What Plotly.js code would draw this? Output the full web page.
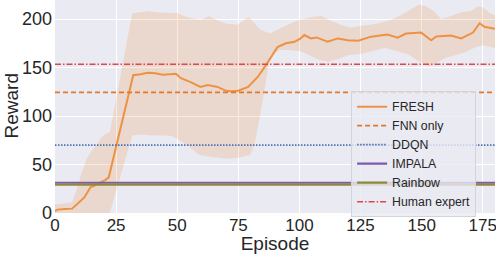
<!DOCTYPE html>
<html>
<head>
<meta charset="utf-8">
<script src="https://cdn.plot.ly/plotly-3.0.1.min.js"></script>
<style>html,body{margin:0;padding:0;background:#fff;}#chart{width:496px;height:254px;}</style>
</head>
<body>
<div id="chart"></div>
<script>
// FRESH mean reward
const freshEp   = [0, 1, 4, 7, 9, 10.5, 12, 14.5, 16, 18.6, 20.5, 22, 32, 35, 38, 41, 44, 47, 49.5, 51.5, 55.5, 59.5, 62.5, 66.5, 70, 72, 75, 79, 83, 86.3, 91, 94.5, 98, 100.5, 102, 104.7, 107, 111.5, 115.7, 119.8, 124, 129.3, 136, 140.2, 143.6, 149.8, 153.9, 156, 162, 166.2, 171, 173.7, 175.7, 180];
const freshMean = [2, 3.5, 4, 4.5, 9, 12.7, 16, 26.5, 28, 31.6, 34, 36.8, 142, 143, 144.5, 144, 142.5, 143, 143.5, 139, 135, 130, 132, 130, 126, 125.5, 126, 130, 140.5, 152.5, 171, 175, 176.5, 180, 183.5, 180, 181, 176.6, 180, 178, 177.6, 181.8, 184, 180.7, 185, 186, 178, 182, 183, 180, 186, 195.6, 192, 190];
// FRESH band (upper / lower edges)
const upperEp  = [0, 3, 7, 9, 11, 13, 15, 17, 19, 21, 22.4, 31.6, 35, 38, 41, 44, 47, 50, 55, 59.6, 63, 67, 70.4, 74.5, 79.3, 84, 88, 92, 96, 100, 105, 109, 113, 117, 121, 125, 129, 133, 137, 141, 145, 149, 152, 155, 158, 162, 166, 170, 173, 175, 178, 180];
const upperVal = [9, 9.5, 11, 25, 42, 56, 64, 70, 78, 82, 83, 206, 207, 208, 207, 206.5, 206, 206, 201, 199, 203, 198, 195, 194, 202, 189, 185, 190, 195, 199, 202, 203, 198, 194, 191, 193, 194, 196, 199, 203, 209, 215, 213, 208, 200, 203, 207, 208, 213, 212, 206, 204];
const lowerEp  = [0, 22.4, 31.6, 35, 40, 45, 48, 51, 55, 59, 63, 67, 70, 75, 80, 82, 85, 88, 92, 96, 100, 104, 108, 112, 116, 120, 125, 130, 135, 140, 145, 149, 153, 156, 160, 164, 168, 172, 175, 178, 180];
const lowerVal = [0, 0, 80, 81, 80, 80, 79, 75, 68, 60, 58, 57, 56, 57, 60, 75, 116, 162, 168, 168, 167, 163, 158, 156, 159, 163, 164, 167, 170, 167, 163, 156, 151, 155, 160, 163, 166, 171, 173, 171, 170];
// Constant baselines
const baselineNames  = ['FNN only', 'DDQN', 'IMPALA', 'Rainbow', 'Human expert'];
const baselineValues = [124.4, 70, 31.2, 29.2, 153.3];
const xTicks = [0, 25, 50, 75, 100, 125, 150, 175];
const yTicks = [0, 50, 100, 150, 200];
const xRange = [0, 180];
const yRange = [0, 219.6];

const baselineStyles = [
  {color: '#E07A2A', width: 1.8, dash: '5px,3px'},
  {color: '#4C72B0', width: 1.8, dash: '1.5px,1.5px'},
  {color: '#7D5BAF', width: 2.2, dash: 'solid'},
  {color: '#8F8A3A', width: 2.2, dash: 'solid'},
  {color: '#E0474C', width: 1.5, dash: '6px,2px,1.5px,2px'}
];

const traces = [];
traces.push({
  x: upperEp.concat(lowerEp.slice().reverse()),
  y: upperVal.concat(lowerVal.slice().reverse()),
  type: 'scatter', mode: 'lines', fill: 'toself',
  fillcolor: 'rgba(237,146,67,0.2)', line: {width: 0, color: 'rgba(0,0,0,0)'},
  showlegend: false, hoverinfo: 'skip'
});
traces.push({
  x: freshEp, y: freshMean, type: 'scatter', mode: 'lines', name: 'FRESH',
  line: {color: '#ED9243', width: 2}
});
baselineNames.forEach((n, i) => {
  traces.push({
    x: xRange, y: [baselineValues[i], baselineValues[i]], type: 'scatter', mode: 'lines',
    name: n, line: baselineStyles[i]
  });
});

const layout = {
  width: 496, height: 254,
  margin: {l: 55, r: 1, t: 0, b: 41, pad: 0},
  paper_bgcolor: '#ffffff', plot_bgcolor: '#EAEAF2',
  font: {family: '"Liberation Sans", Arial, sans-serif', color: '#262626'},
  showlegend: true,
  xaxis: {
    range: xRange, tickvals: xTicks, ticktext: xTicks.map(String),
    showgrid: true, gridcolor: '#ffffff', gridwidth: 1, zeroline: false, showline: false,
    ticks: '', tickfont: {size: 17, color: '#262626'}, ticklabeloverflow: 'allow',
    title: {text: 'Episode', font: {size: 19, color: '#262626'}, standoff: 2},
    automargin: false
  },
  yaxis: {
    range: yRange, tickvals: yTicks, ticktext: yTicks.map(String),
    showgrid: true, gridcolor: '#ffffff', gridwidth: 1, zeroline: false, showline: false,
    ticks: '', tickfont: {size: 18, color: '#262626'}, ticklabelstandoff: 2,
    automargin: false
  },
  annotations: [{
    text: 'Reward', xref: 'paper', yref: 'paper', x: -0.1, y: 0.5,
    xanchor: 'center', yanchor: 'middle', textangle: -90, showarrow: false,
    font: {size: 19, color: '#262626'}
  }],
  legend: {
    x: 0.673, y: 0.572, xanchor: 'left', yanchor: 'top',
    bgcolor: 'rgba(234,234,242,0.8)', bordercolor: '#D3D3DA', borderwidth: 1,
    font: {size: 12.3, color: '#262626'}
  }
};

Plotly.newPlot('chart', traces, layout, {displayModeBar: false, staticPlot: true});
</script>
</body>
</html>
